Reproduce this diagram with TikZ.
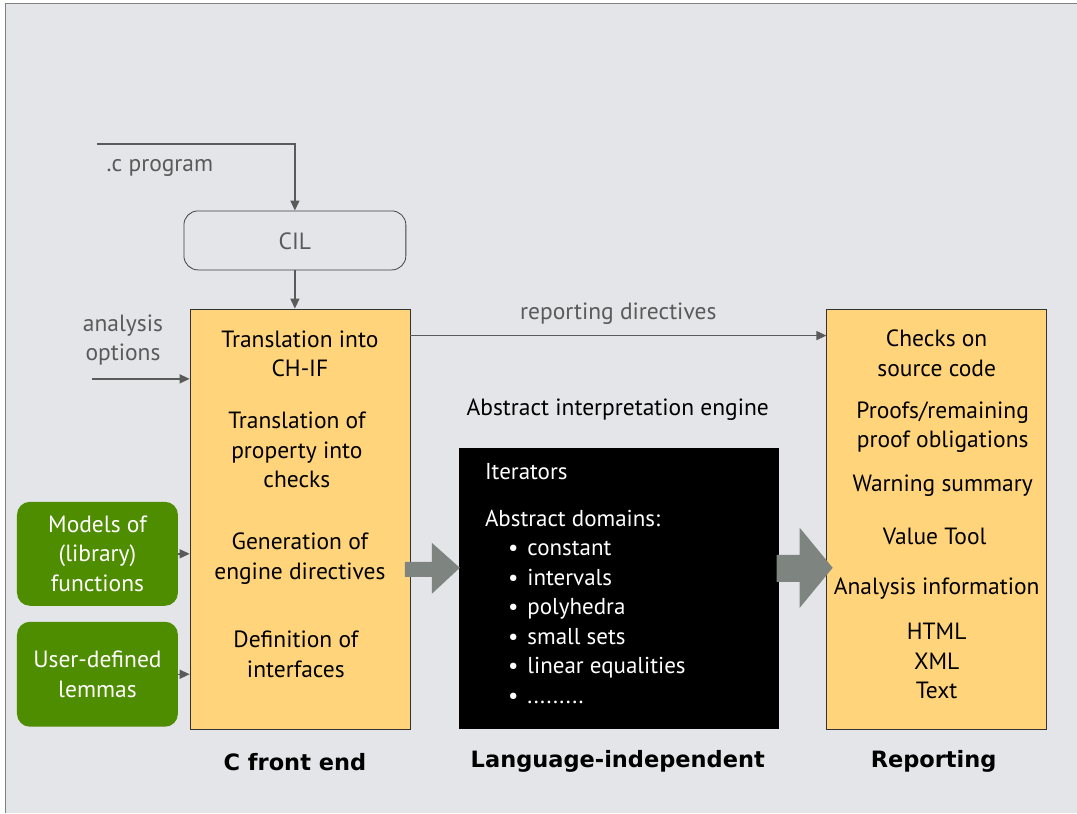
\documentclass[tikz,border=0pt]{standalone}
\usepackage{fontspec}
\setmainfont{PT Sans}
\newfontfamily\stagefont{DejaVu Sans}
\usepackage{tikz}
\usetikzlibrary{arrows.meta}

\definecolor{panel}{HTML}{E3E5E9}
\definecolor{pale}{HTML}{FFD47A}
\definecolor{leaf}{HTML}{4E8C00}
\definecolor{wire}{HTML}{5A5A5A}
\definecolor{fat}{HTML}{7E8580}
\newcommand{\moredots}{.........}

\begin{document}
\begin{tikzpicture}[x=1pt, y=-1pt,
        txt/.style={font=\fontsize{23.5}{29.5}\selectfont, align=center, inner sep=0pt},
        gray txt/.style={txt, text=wire},
        white txt/.style={font=\fontsize{23}{29.5}\selectfont, text=white, inner sep=0pt, anchor=base west},
        stage/.style={font=\stagefont\fontsize{22.5}{26}\selectfont\bfseries, inner sep=0pt},
        yellowbox/.style={draw=black!80, fill=pale, line width=0.6pt, minimum width=220pt, minimum height=421pt},
        greenbox/.style={fill=leaf, rounded corners=13pt, minimum width=161pt, text=white, txt},
        link/.style={draw=wire, line width=1.4pt, -{Triangle[length=10pt,width=9pt]}},
        fatarrow/.style={fill=fat}]

        % panel
        \fill[white] (0,0) rectangle (1077,813);
        \fill[panel] (5,3) rectangle (1077,813);
        \draw[gray, line width=0.8pt] (5,813) -- (5,3) -- (1077,3);
        \useasboundingbox (0,0) rectangle (1077,813);

        % front end
        \node[draw=black!75, line width=0.8pt, rounded corners=14pt, minimum width=222pt, minimum height=59pt] (cil) at (295,240.5) {};
        \node[gray txt] (cilname) at (295,241) {CIL};
        \node[yellowbox] (front) at (300,519.5) {};
        \node[txt] (chif) at (300,354) {Translation into\\CH-IF};
        \node[txt] (prop) at (297,450) {Translation of\\property into\\checks};
        \node[txt] (gen) at (300,559) {Generation of\\engine directives};
        \node[txt] (iface) at (296,654.5) {Definition of\\interfaces};

        % inputs
        \node[greenbox, minimum height=104pt] (models) at (97.5,554) {Models of\\(library)\\functions};
        \node[greenbox, minimum height=105pt] (lemmas) at (97.5,674.5) {User-defined\\lemmas};
        \coordinate (src) at (97,144);
        \coordinate (opt) at (92,379);
        \node[gray txt] (srclabel) at (160,168) {.c program};
        \node[gray txt] (optlabel) at (123,340) {analysis\\options};

        \draw[link] (src) -| (cil.north);
        \draw[link] (cil.south) -- (cil.south |- front.north);
        \draw[link] (opt) -- (opt -| front.west);
        \draw[link] (models.east) -- (models.east -| front.west);
        \draw[link] (lemmas.east) -- (lemmas.east -| front.west);

        % engine
        \node[gray txt, text=black] (enginename) at (618,410) {Abstract interpretation engine};
        \node[fill=black, minimum width=320pt, minimum height=281pt] (engine) at (619,588.5) {};
        \node[white txt] (iter) at (485,480) {Iterators};
        \node[white txt] (doms) at (485,527) {Abstract domains:};
        \foreach \t [count=\i] in {constant, intervals, polyhedra, small sets, linear equalities, \moredots}
            \node[white txt] (dom\i) at (508,526.5+29.5*\i) {\textbullet\hspace{9pt}\t};

        % reporting
        \node[yellowbox] (report) at (937,519.5) {};
        \node[txt] (checks) at (937,353.5) {Checks on\\source code};
        \node[txt] (proofs) at (943,427.5) {Proofs/remaining\\proof obligations};
        \node[txt] (warn) at (943,486) {Warning summary};
        \node[txt] (value) at (935,537) {Value Tool};
        \node[txt] (info) at (937,589) {Analysis information};
        \node[txt] (formats) at (937,661.5) {HTML\\XML\\Text};

        \draw[link] ([yshift=-27pt]front.north east) -- ([yshift=-27pt]report.north west)
            node[gray txt, midway, above=10pt] (rdlabel) {reporting directives};

        % fat arrows
        \fill[fatarrow] (405,562) -- (432,562) -- (432,543) -- (460,568) -- (432,594) -- (432,577) -- (405,577) -- cycle;
        \fill[fatarrow] (777,555) -- (800,555) -- (800,528) -- (833,568) -- (800,608) -- (800,582) -- (777,582) -- cycle;

        % stage names
        \node[stage] (s1) at (295,762) {C front end};
        \node[stage] (s2) at (618,762) {Language-independent};
        \node[stage] (s3) at (934,762) {Reporting};
    \end{tikzpicture}
\end{document}
